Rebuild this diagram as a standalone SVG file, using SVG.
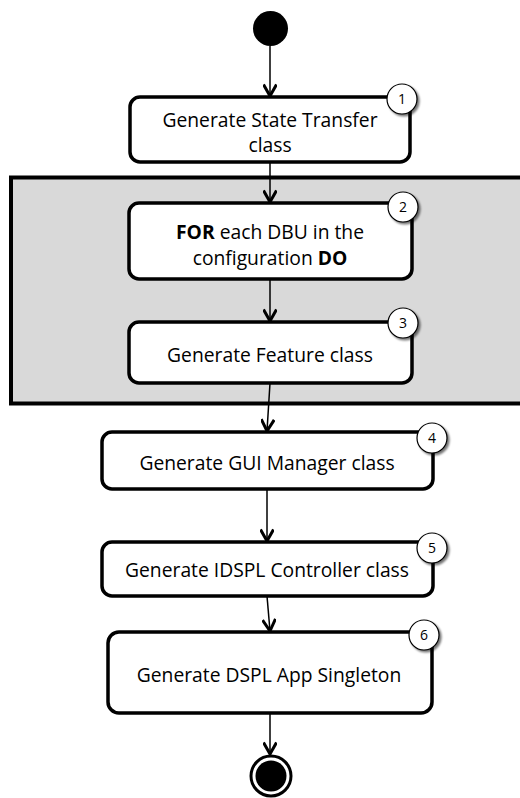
<svg xmlns="http://www.w3.org/2000/svg" width="520" height="798" viewBox="0 0 520 798">
<defs>
<marker id="arr" markerWidth="16" markerHeight="14" refX="13" refY="7" orient="auto" markerUnits="userSpaceOnUse">
<path d="M1.5,0.5 L13,7 L1.5,13.5" fill="none" stroke="#000" stroke-width="3"/>
</marker>
<filter id="sh" x="-30%" y="-30%" width="170%" height="170%">
<feGaussianBlur in="SourceAlpha" stdDeviation="1.2"/>
<feOffset dx="1.5" dy="2" result="b"/>
<feComponentTransfer><feFuncA type="linear" slope="0.55"/></feComponentTransfer>
<feMerge><feMergeNode/><feMergeNode in="SourceGraphic"/></feMerge>
</filter>
</defs>
<style>
.box{fill:#fff;stroke:#000;stroke-width:3.5}
.t{font-family:"Open Sans","Liberation Sans",sans-serif;font-size:19.3px;fill:#000;text-anchor:middle}
.b{font-weight:bold}
.badge{fill:#fff;stroke:#000;stroke-width:1.2}
.n{font-family:"Open Sans","Liberation Sans",sans-serif;font-size:14px;fill:#000;text-anchor:middle}
.c{fill:none;stroke:#000;stroke-width:1.5}
</style>
<rect x="11" y="177.5" width="520" height="226" fill="#d9d9d9" stroke="#000" stroke-width="4"/>
<g id="connectors">
<line class="c" x1="270" y1="46" x2="270" y2="96" marker-end="url(#arr)"/>
<line class="c" x1="270" y1="162" x2="270" y2="202" marker-end="url(#arr)"/>
<line class="c" x1="270" y1="279" x2="270" y2="321" marker-end="url(#arr)"/>
<line class="c" x1="270" y1="383" x2="267" y2="431" marker-end="url(#arr)"/>
<line class="c" x1="267" y1="489" x2="267" y2="541" marker-end="url(#arr)"/>
<line class="c" x1="267" y1="596" x2="270" y2="631" marker-end="url(#arr)"/>
<line class="c" x1="270" y1="713" x2="270" y2="754" marker-end="url(#arr)"/>
</g>
<g id="start"><circle cx="270.5" cy="28.5" r="17.5" fill="#000"/></g>
<g id="node1">
<rect class="box" x="130" y="97" width="280" height="65" rx="10"/>
<text class="t" x="270" y="127">Generate State Transfer</text>
<text class="t" x="270" y="152">class</text>
<g filter="url(#sh)"><circle class="badge" cx="402" cy="99" r="15"/></g>
<text class="n" x="402" y="104">1</text>
</g>
<g id="node2">
<rect class="box" x="129" y="203" width="283" height="76" rx="10"/>
<text class="t" x="270" y="239"><tspan class="b">FOR</tspan> each DBU in the</text>
<text class="t" x="270" y="265">configuration <tspan class="b">DO</tspan></text>
<g filter="url(#sh)"><circle class="badge" cx="403" cy="207" r="15"/></g>
<text class="n" x="403" y="212">2</text>
</g>
<g id="node3">
<rect class="box" x="129" y="322" width="283" height="61" rx="10"/>
<text class="t" x="270" y="362">Generate Feature class</text>
<g filter="url(#sh)"><circle class="badge" cx="403" cy="323" r="15"/></g>
<text class="n" x="403" y="328">3</text>
</g>
<g id="node4">
<rect class="box" x="102" y="432" width="331" height="57" rx="10"/>
<text class="t" x="267" y="470">Generate GUI Manager class</text>
<g filter="url(#sh)"><circle class="badge" cx="432" cy="438" r="15"/></g>
<text class="n" x="432" y="443">4</text>
</g>
<g id="node5">
<rect class="box" x="102" y="542" width="331" height="54" rx="10"/>
<text class="t" x="267" y="577">Generate IDSPL Controller class</text>
<g filter="url(#sh)"><circle class="badge" cx="432" cy="548" r="15"/></g>
<text class="n" x="432" y="553">5</text>
</g>
<g id="node6">
<rect class="box" x="108" y="632" width="324" height="81" rx="11"/>
<text class="t" x="269" y="682">Generate DSPL App Singleton</text>
<g filter="url(#sh)"><circle class="badge" cx="424" cy="635" r="15"/></g>
<text class="n" x="424" y="640">6</text>
</g>
<g id="end">
<circle cx="271" cy="776" r="20" fill="#fff" stroke="#000" stroke-width="3"/>
<circle cx="271" cy="776" r="15.5" fill="#000"/>
</g>
</svg>
